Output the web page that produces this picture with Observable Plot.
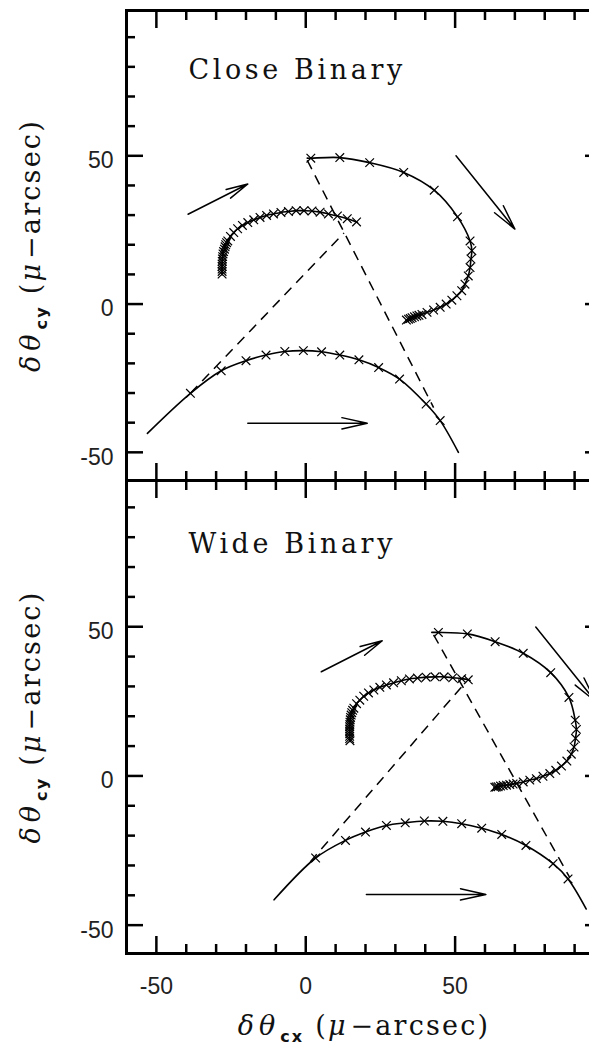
<!DOCTYPE html>
<html>
<head>
<meta charset="utf-8">
<script src="https://cdn.jsdelivr.net/npm/d3@7"></script>
<script src="https://cdn.jsdelivr.net/npm/@observablehq/plot@0.6"></script>
<style>
  html, body { margin: 0; padding: 0; background: #fff; overflow: hidden; }
  #chart { width: 589px; overflow: hidden; }
  #chart svg { display: block; }
</style>
</head>
<body>
<div id="chart"></div>
<script>
// ---------------- data ----------------
const panelTitles = ["Close Binary", "Wide Binary"];
const xDomain = [-60, 99];
const yDomain = [-59.5, 99];
const xTicksMajor = [-50, 0, 50];
const xTicksMinor = [-40, -30, -20, -10, 10, 20, 30, 40, 60, 70, 80, 90];
const yTicksMajor = [-50, 0, 50];
const yTicksMinor = [-40, -30, -20, -10, 10, 20, 30, 40, 60, 70, 80, 90];
const xTickLabels = ["-50", "0", "50"];
const yTickLabels = ["-50", "0", "50"];
const xLabelParts = [["δθ", "it"], ["cx", "sub"], [" (", ""], ["μ", "it"], ["−arcsec)", ""]];
const yLabelParts = [["δθ", "it"], ["cy", "sub"], [" (", ""], ["μ", "it"], ["−arcsec)", ""]];

// Close binary (top panel)
const closeSrcEnds = [[-53, -43.6], [51.1, -50]];
const closeSrcMarks = [[-38.6, -30.1], [-28.3, -22.5], [-20, -19.1], [-13.3, -17.2], [-7, -16], [-0.8, -15.7],
  [5.3, -16.1], [11.4, -17.2], [17.8, -18.8], [24.4, -21.4], [31.4, -25.3], [40.3, -33.7], [45, -39.3]];
const closeBigEnds = [[0.5, 49.2], [33.5, -5.5]];
const closeBigMarks = [[1.7, 49.2], [11.4, 49.4], [21.4, 47.7], [32.8, 44.4], [43, 38.4], [50.8, 29.4], [55, 21.3],
  [55.6, 18], [55.3, 15.2], [55, 12.3], [54.4, 9.5], [53.3, 6.7], [52.2, 4.5], [50.6, 2.8], [48.9, 1.3], [47, 0],
  [45, -1.1], [42.8, -2], [40.6, -2.8], [38.9, -3.5], [37.9, -3.8], [37.2, -4], [36.4, -4.3], [35.6, -4.6],
  [35, -4.9], [34.4, -5.1], [33.7, -5.4]];
const closeSmallEnds = [[-28, 9.8], [17.3, 27.5]];
const closeSmallMarks = [[-28, 10.1], [-28, 11], [-28, 11.8], [-28, 12.7], [-28, 13.5], [-27.95, 14.4], [-27.9, 15.2],
  [-27.8, 16], [-27.7, 16.9], [-27.5, 17.7], [-27.2, 18.5], [-27, 19.3], [-26.8, 20], [-26.5, 20.7], [-26.1, 21.3],
  [-25.2, 22.8], [-24.1, 24.1], [-22.8, 25.4], [-21.2, 26.5], [-19.4, 27.5], [-17.4, 28.4], [-15.3, 29.2],
  [-13.1, 29.9], [-10.8, 30.4], [-8.3, 30.9], [-5.8, 31.2], [-3.2, 31.5], [-0.6, 31.5], [2.1, 31.4], [4.8, 31],
  [7.6, 30.4], [10.6, 29.7], [13.9, 28.8], [17, 27.7]];
const closeDashA = [[0.5, 48.5], [42.8, -34.9]];
const closeDashB = [[-38.6, -30.1], [12.8, 24]];
const closeArrows = [[-39.4, 30.3, -19.4, 40.5], [50.3, 50, 70, 25.3], [-19.4, -40.2, 20.6, -40.2]];

// Wide binary (bottom panel)
const wideSrcEnds = [[-10.6, -41.5], [93.9, -44.6]];
const wideSrcMarks = [[3.3, -27.5], [13.3, -21.6], [20, -18.8], [27, -16.6], [33.3, -15.7], [39.7, -15.1],
  [45.9, -15.2], [52.2, -16], [58.9, -17.5], [65.6, -19.6], [73.7, -23.3], [82.8, -29.4], [87.8, -34.5]];
const wideBigEnds = [[42.2, 48.1], [63, -3.9]];
const wideBigMarks = [[44.4, 48.1], [54.1, 47.6], [63.4, 45], [72.8, 41.1], [82, 34.6], [88.1, 26.3], [90.2, 18.7],
  [90.6, 15.6], [90.3, 12.6], [89.8, 9.7], [88.9, 7.3], [87.4, 5], [85.6, 3.3], [83.7, 1.9], [81.7, 0.8],
  [79.4, -0.1], [77.2, -0.9], [75, -1.4], [72.8, -2], [70.6, -2.5], [69.4, -2.7], [68.3, -2.9], [67.2, -3.1],
  [66.1, -3.2], [65.2, -3.4], [64.4, -3.6], [63.8, -3.7], [63.3, -3.8]];
const wideSmallEnds = [[14.8, 11.5], [55, 32]];
const wideSmallMarks = [[14.8, 11.8], [14.7, 12.5], [14.7, 13.3], [14.7, 14.1], [14.7, 14.9], [14.7, 15.7],
  [14.7, 16.5], [14.75, 17.2], [14.8, 18], [14.9, 18.8], [15, 19.6], [15.2, 20.4], [15.4, 21.2], [15.7, 22],
  [16.1, 22.7], [17, 24.2], [18.1, 25.4], [19.4, 26.7], [21, 27.8], [22.8, 28.8], [24.8, 29.7], [27, 30.5],
  [29.4, 31.2], [32, 31.9], [34.7, 32.5], [37.4, 32.8], [40.3, 33.1], [43.3, 33.2], [46.3, 33.2], [49.2, 32.9],
  [52.2, 32.6], [54.4, 32.2]];
const wideDashA = [[42.8, 47.3], [88.3, -33.9]];
const wideDashB = [[1.5, -28.8], [52.3, 30]];
const wideArrows = [[5.2, 34.9, 25.6, 45.3], [77, 49.9, 97, 25], [20.3, -39.7, 60.3, -39.7]];

// ---------------- drawing ----------------
const toPts = a => a.map(([x, y]) => ({x, y}));
const withEnds = (ends, marks) => toPts([ends[0], ...marks, ends[1]]);
const segs = list => list.map(([[x1, y1], [x2, y2]]) => ({x1, y1, x2, y2}));
const arrowRows = list => list.map(([x1, y1, x2, y2]) => ({x1, y1, x2, y2}));
const yLabelPlain = yLabelParts.map(p => p[0]).join("");
const xLabelPlain = xLabelParts.map(p => p[0]).join("");

function makePanel(cfg) {
  const tickOpts = {fill: null, label: null, strokeWidth: 2.5};
  const curve = "catmull-rom";
  const marks = [
    Plot.line(withEnds(cfg.srcEnds, cfg.srcMarks), {x: "x", y: "y", curve, stroke: "black", strokeWidth: 1.6}),
    Plot.line(withEnds(cfg.bigEnds, cfg.bigMarks), {x: "x", y: "y", curve, stroke: "black", strokeWidth: 1.6}),
    Plot.line(withEnds(cfg.smallEnds, cfg.smallMarks), {x: "x", y: "y", curve, stroke: "black", strokeWidth: 1.6}),
    Plot.dot(toPts(cfg.srcMarks), {x: "x", y: "y", symbol: "times", r: 4, stroke: "black", strokeWidth: 1.2}),
    Plot.dot(toPts(cfg.bigMarks), {x: "x", y: "y", symbol: "times", r: 4, stroke: "black", strokeWidth: 1.2}),
    Plot.dot(toPts(cfg.smallMarks), {x: "x", y: "y", symbol: "times", r: 4, stroke: "black", strokeWidth: 1.2}),
    Plot.link(segs([cfg.dashA, cfg.dashB]), {x1: "x1", y1: "y1", x2: "x2", y2: "y2", stroke: "black",
      strokeWidth: 1.5, strokeDasharray: "10,7"}),
    Plot.arrow(arrowRows(cfg.arrows), {x1: "x1", y1: "y1", x2: "x2", y2: "y2", stroke: "black",
      strokeWidth: 1.5, headAngle: 25, headLength: 26}),
    Plot.text([cfg.title], {text: d => d, frameAnchor: "top-left", dx: 62, dy: cfg.titleDy,
      textAnchor: "start", lineAnchor: "bottom", fontFamily: "DejaVu Serif", fontSize: 27, fill: "#111"}),
    Plot.frame({stroke: "black", strokeWidth: 3}),
    ...["left", "right"].flatMap(anchor => [
      Plot.axisY(yTicksMajor, {anchor, tickSize: -17, ...tickOpts}),
      Plot.axisY(yTicksMinor, {anchor, tickSize: -9, ...tickOpts})
    ]),
    ...["top", "bottom"].flatMap(anchor => [
      Plot.axisX(xTicksMajor, {anchor, tickSize: -17, ...tickOpts}),
      Plot.axisX(xTicksMinor, {anchor, tickSize: -9, ...tickOpts})
    ]),
    Plot.axisY(yTicksMajor, {anchor: "left", tickSize: 0, tickPadding: 13, dy: 5, label: null,
      tickFormat: d => yTickLabels[yTicksMajor.indexOf(d)], fill: "#222"}),
    Plot.text([yLabelPlain], {text: d => d, frameAnchor: "left", dx: -95, rotate: -90, textAnchor: "middle",
      lineAnchor: "middle", fontFamily: "DejaVu Serif", fontSize: 27, fill: "#111"})
  ];
  if (cfg.showX) {
    marks.push(
      Plot.axisX(xTicksMajor, {anchor: "bottom", tickSize: 0, tickPadding: 24, label: null,
        tickFormat: d => xTickLabels[xTicksMajor.indexOf(d)], fill: "#222"}),
      Plot.text([xLabelPlain], {text: d => d, frameAnchor: "bottom", dy: 73, textAnchor: "middle",
        lineAnchor: "middle", fontFamily: "DejaVu Serif", fontSize: 27, fill: "#111"})
    );
  }
  const svg = Plot.plot({
    width: 610,
    height: cfg.height,
    marginTop: cfg.marginTop,
    marginBottom: cfg.marginBottom,
    marginLeft: 126,
    marginRight: 9,
    x: {domain: xDomain},
    y: {domain: yDomain},
    style: {fontFamily: "Liberation Sans", fontSize: "23px", maxWidth: "none", overflow: "hidden", background: "transparent"},
    marks
  });
  // typographic touches: letter spacing, italics and subscripts
  for (const t of svg.querySelectorAll("text")) {
    const s = t.textContent;
    if (s === cfg.title) t.setAttribute("letter-spacing", "3.6");
    if (s === yLabelPlain) richify(t, yLabelParts);
    if (s === xLabelPlain) richify(t, xLabelParts);
  }
  return svg;
}

function richify(t, parts) {
  t.textContent = "";
  t.setAttribute("letter-spacing", "2.2");
  let shifted = false;
  for (const [s, kind] of parts) {
    const ts = document.createElementNS("http://www.w3.org/2000/svg", "tspan");
    ts.textContent = s;
    if (kind === "it") { ts.setAttribute("font-style", "italic"); ts.setAttribute("letter-spacing", "5"); }
    if (kind === "sub") {
      ts.setAttribute("font-family", "DejaVu Sans");
      ts.setAttribute("font-weight", "bold");
      ts.setAttribute("font-size", "16");
      ts.setAttribute("dy", "7");
      shifted = true;
    } else if (shifted) {
      ts.setAttribute("dy", "-7");
      shifted = false;
    }
    t.appendChild(ts);
  }
}

const chart = document.getElementById("chart");
chart.appendChild(makePanel({
  title: panelTitles[0], titleDy: 68,
  srcEnds: closeSrcEnds, srcMarks: closeSrcMarks,
  bigEnds: closeBigEnds, bigMarks: closeBigMarks,
  smallEnds: closeSmallEnds, smallMarks: closeSmallMarks,
  dashA: closeDashA, dashB: closeDashB, arrows: closeArrows,
  height: 480, marginTop: 10, marginBottom: 0, showX: false
}));
chart.appendChild(makePanel({
  title: panelTitles[1], titleDy: 72,
  srcEnds: wideSrcEnds, srcMarks: wideSrcMarks,
  bigEnds: wideBigEnds, bigMarks: wideBigMarks,
  smallEnds: wideSmallEnds, smallMarks: wideSmallMarks,
  dashA: wideDashA, dashB: wideDashB, arrows: wideArrows,
  height: 566, marginTop: 0, marginBottom: 93, showX: true
}));
</script>
</body>
</html>
